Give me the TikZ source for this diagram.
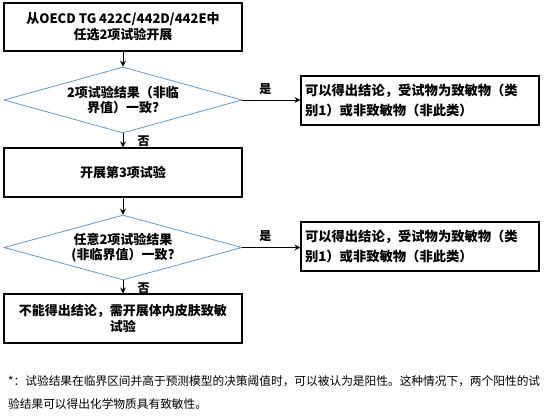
\documentclass[tikz,border=0pt]{standalone}
\usepackage{fontspec}
\setmainfont{Noto Sans CJK SC}
\usetikzlibrary{arrows.meta,shapes.geometric}

\begin{document}
\begin{tikzpicture}[x=1pt, y=-1pt,
  % ---- colours ---------------------------------------------------------
  /utils/exec={%
    \definecolor{dialine}{RGB}{ 91,155,213}%
    \definecolor{boxline}{RGB}{  0,  0,  0}%
  },
  % ---- one style per kind of box ---------------------------------------
  stepbox/.style={
    draw=boxline, line width=1.1pt, minimum width=238pt, minimum height=#1,
    align=center, inner sep=3pt, font=\fontsize{13}{16}\selectfont\bfseries
  },
  stepbox/.default=48pt,
  endbox/.style={
    draw=boxline, line width=1.1pt, minimum width=238pt, minimum height=49pt,
    text width=230pt, align=left, inner sep=4pt,
    font=\fontsize{13.3}{20}\selectfont\bfseries
  },
  ask/.style={
    diamond, draw=dialine, line width=0.8pt, aspect=3.6, inner sep=0pt,
    minimum width=238pt, minimum height=#1, align=center,
    font=\fontsize{13}{14.5}\selectfont\bfseries
  },
  ask/.default=66pt,
  lbl/.style={font=\fontsize{12}{14}\selectfont\bfseries},
  flow/.style={draw=black, line width=0.8pt, -{Stealth[length=6pt,width=6pt,inset=2pt]}},
]
\useasboundingbox (0,0) rectangle (547,418);

% =====================================================================
%  MAIN COLUMN
% =====================================================================
\node[stepbox] (pick) at (123,27) {从OECD TG 422C/442D/442E中\\任选2项试验开展};
\node[ask] (same2) at (123,100) {2项试验结果（非临\\界值）一致?};
\node[stepbox=49pt] (third) at (123,172.5) {开展第3项试验};
\node[ask=65pt] (any2) at (123,247.5) {任意2项试验结果\\(非临界值）一致?};
\node[stepbox=49pt] (invivo) at (123,318.5) {不能得出结论，需开展体内皮肤致敏\\试验};

% =====================================================================
%  CONCLUSIONS ON THE RIGHT
% =====================================================================
\node[endbox] (done1) at (420,100.5) {可以得出结论，受试物为致敏物（类\\别1）或非致敏物（非此类）};
\node[endbox] (done2) at (420,246.5) {可以得出结论，受试物为致敏物（类\\别1）或非致敏物（非此类）};

% =====================================================================
%  FLOW
% =====================================================================
\draw[flow] (pick) -- (same2);
\draw[flow] (same2) -- node[lbl, anchor=west, xshift=11pt, yshift=-1pt] {否} (third);
\draw[flow] (third) -- (any2);
\draw[flow] (any2) -- node[lbl, anchor=west, xshift=11pt, yshift=-1pt] {否} (invivo);
\draw[flow] (same2.east) -- node[lbl, above, xshift=-6pt, yshift=2pt] {是} (same2.east -| done1.west);
\draw[flow] (any2.east) -- node[lbl, above, xshift=-6pt, yshift=2pt] {是} (any2.east -| done2.west);

% footnote
\node[anchor=north west, align=left, inner sep=0pt,
      font=\fontsize{11.7}{23}\selectfont] (note) at (8,375)
  {*：试验结果在临界区间并高于预测模型的决策阈值时，可以被认为是阳性。这种情况下，两个阳性的试\\验结果可以得出化学物质具有致敏性。};

\end{tikzpicture}
\end{document}
